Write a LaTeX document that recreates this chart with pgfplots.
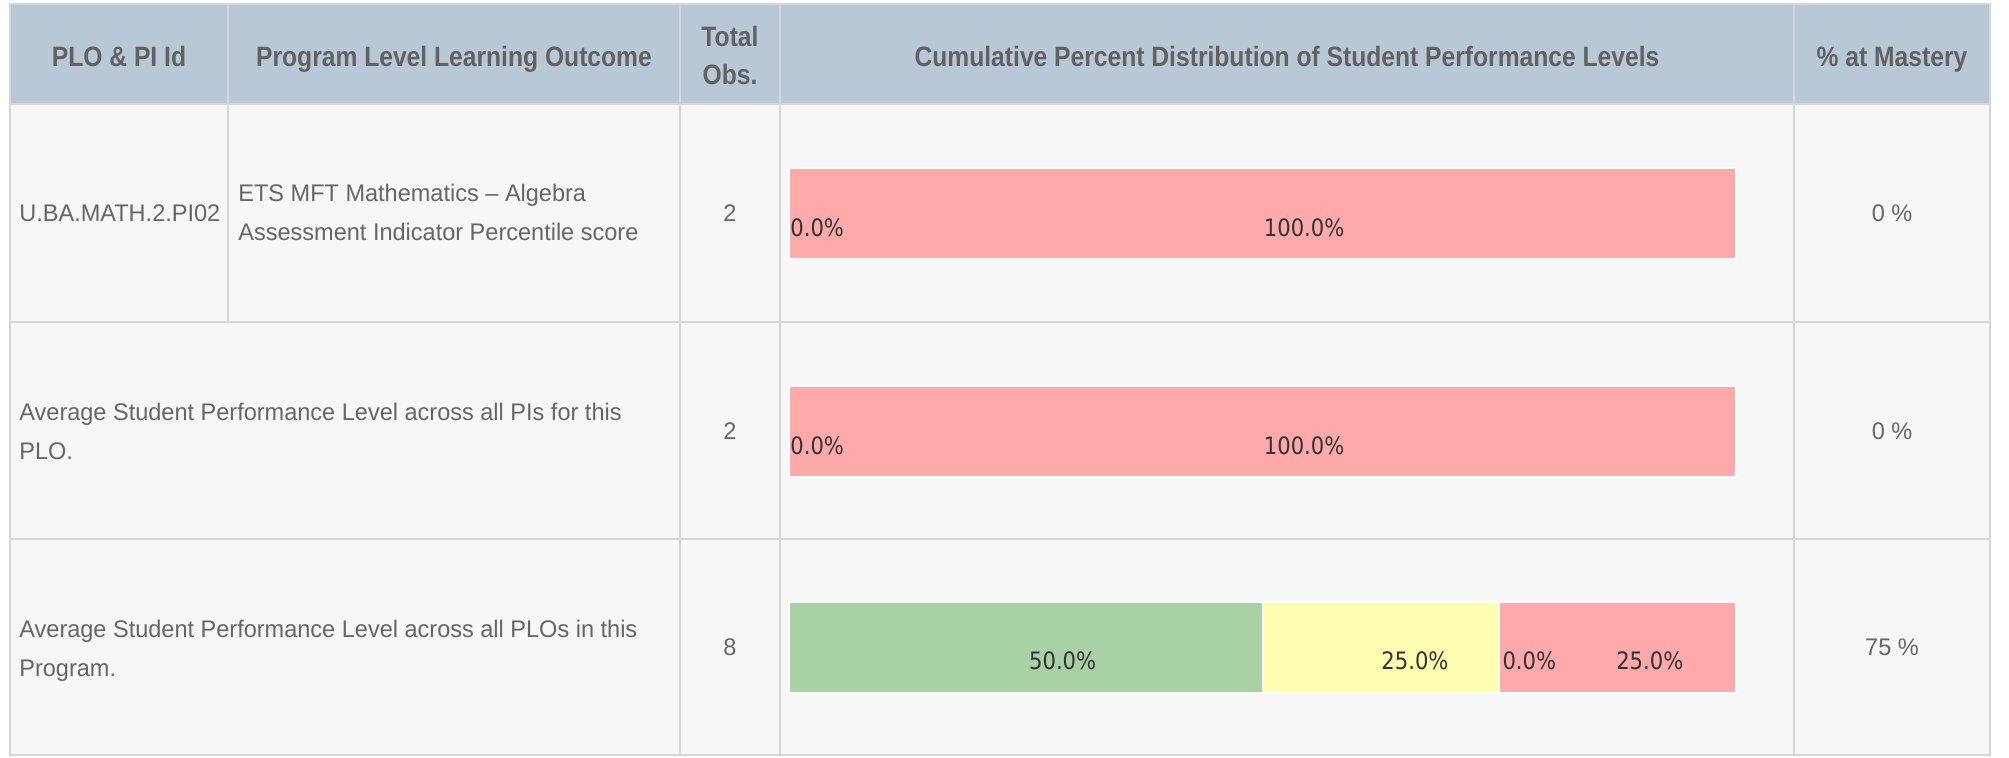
\documentclass[border=0pt]{standalone}
\usepackage{fontspec}
\setmainfont{Liberation Sans}
\newfontfamily\hdfont{Liberation Sans}[FakeStretch=0.88]
\newfontfamily\bodyfont{Liberation Sans}[FakeStretch=0.98]
\newfontfamily\lblfont{DejaVu Sans}[FakeStretch=0.88]
\usepackage{pgfplots}
\pgfplotsset{compat=1.18}
\definecolor{hdbg}{RGB}{184,200,214}
\definecolor{bodybg}{RGB}{247,247,247}
\definecolor{gridc}{RGB}{214,214,214}
\definecolor{txt}{RGB}{102,102,102}
\definecolor{hdtxt}{RGB}{98,98,98}
\definecolor{redbar}{RGB}{254,170,170}
\definecolor{greenbar}{RGB}{168,209,165}
\definecolor{yellowbar}{RGB}{254,254,176}
\definecolor{amberbar}{RGB}{254,214,150}
\definecolor{lbl}{RGB}{51,51,51}
\begin{document}
\begin{tikzpicture}[x=0.5pt,y=-0.5pt]
\fill[white] (0,0) rectangle (2009,757);
\fill[bodybg] (10,4) rectangle (1990,755);
\fill[hdbg] (10,4) rectangle (1990,104);
\begin{scope}[gridc, line width=1pt]
\draw (10,4) rectangle (1990,755);
\draw (228,4) -- (228,322);
\draw (680,4) -- (680,755);
\draw (780,4) -- (780,755);
\draw (1794,4) -- (1794,755);
\draw (10,104) -- (1990,104);
\draw (10,322) -- (1990,322);
\draw (10,539) -- (1990,539);
\end{scope}
% header
\begin{scope}[every node/.style={anchor=base, inner sep=0pt, text=hdtxt, font=\hdfont\bfseries\fontsize{14}{16}\selectfont}]
\node at (119,66) {PLO \& PI Id};
\node at (454,66) {Program Level Learning Outcome};
\node at (730,46) {Total};
\node at (730,84) {Obs.};
\node at (1287,66) {Cumulative Percent Distribution of Student Performance Levels};
\node at (1892,66) {\% at Mastery};
\end{scope}
% body
\begin{scope}[every node/.style={anchor=base west, inner sep=0pt, text=txt, font=\bodyfont\fontsize{12}{14}\selectfont}]
\node at (19,221) {U.BA.MATH.2.PI02};
\node at (238,201) {ETS MFT Mathematics – Algebra};
\node at (238,240) {Assessment Indicator Percentile score};
\node at (19,420) {Average Student Performance Level across all PIs for this};
\node at (19,459) {PLO.};
\node at (19,637) {Average Student Performance Level across all PLOs in this};
\node at (19,676) {Program.};
\end{scope}
\begin{scope}[every node/.style={anchor=base, inner sep=0pt, text=txt, font=\bodyfont\fontsize{12}{14}\selectfont}]
\node at (730,221) {2};
\node at (730,439) {2};
\node at (730,655) {8};
\node at (1892,221) {0 \%};
\node at (1892,439) {0 \%};
\node at (1892,655) {75 \%};
\end{scope}
% stacked bars
\begin{axis}[at={(394.5pt,-378.5pt)}, anchor=south west, scale only axis,
  width=473.5pt, height=378.5pt, xmin=0, xmax=100, ymin=-757, ymax=0,
  hide axis, xbar stacked, bar width=91, clip=false]
\addplot[fill=greenbar, draw=white, line width=1pt] coordinates {(0,-213.5) (0,-431.5) (50,-647)};
\addplot[fill=yellowbar, draw=white, line width=1pt] coordinates {(0,-213.5) (0,-431.5) (25,-647)};
\addplot[fill=amberbar, draw=white, line width=1pt] coordinates {(0,-213.5) (0,-431.5) (0,-647)};
\addplot[fill=redbar, draw=white, line width=1pt] coordinates {(100,-213.5) (100,-431.5) (25,-647)};
\end{axis}
% labels
\begin{axis}[at={(394.5pt,-378.5pt)}, anchor=south west, scale only axis,
  width=473.5pt, height=378.5pt, xmin=0, xmax=100, ymin=-757, ymax=0,
  hide axis, clip=false]
\addplot[only marks, mark options={draw=none,fill=none}, nodes near coords, point meta=explicit symbolic,
  every node near coord/.style={anchor=center, inner sep=0pt, text=lbl, font=\lblfont\fontsize{12}{14}\selectfont}]
  coordinates {(54.4,-228) [100.0\%] (54.4,-445.5) [100.0\%] (28.9,-661) [50.0\%] (66.1,-661) [25.0\%] (90.9,-661) [25.0\%]};
\addplot[only marks, mark options={draw=none,fill=none}, nodes near coords, point meta=explicit symbolic,
  every node near coord/.style={anchor=west, inner sep=0pt, text=lbl, font=\lblfont\fontsize{12}{14}\selectfont}]
  coordinates {(0.1,-228) [0.0\%] (0.1,-445.5) [0.0\%] (75.3,-661) [0.0\%]};
\end{axis}
\end{tikzpicture}
\end{document}
